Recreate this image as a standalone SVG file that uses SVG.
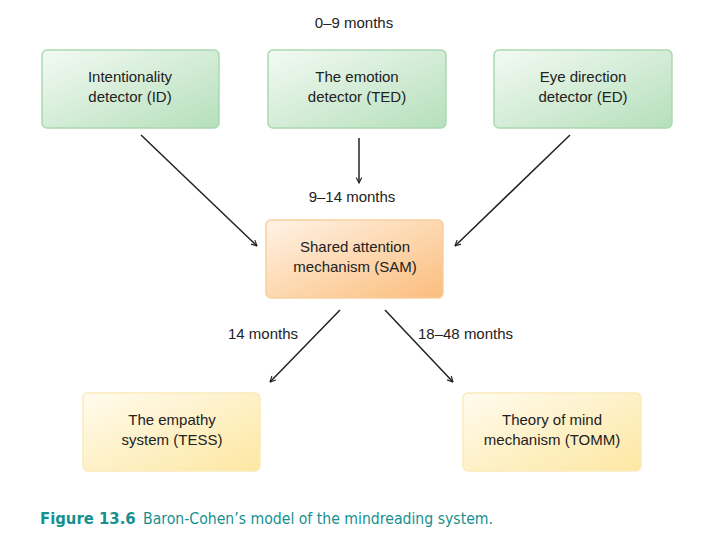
<svg xmlns="http://www.w3.org/2000/svg" width="728" height="550" viewBox="0 0 728 550">
<defs>
<linearGradient id="gGreen" x1="0" y1="0" x2="1" y2="1">
<stop offset="0" stop-color="#f3faf3"/><stop offset="1" stop-color="#b5dfbb"/>
</linearGradient>
<linearGradient id="gOrange" x1="0" y1="0" x2="1" y2="1">
<stop offset="0" stop-color="#fff3e6"/><stop offset="1" stop-color="#fbbd7c"/>
</linearGradient>
<linearGradient id="gYellow" x1="0" y1="0" x2="1" y2="1">
<stop offset="0" stop-color="#fffbee"/><stop offset="1" stop-color="#fde7a2"/>
</linearGradient>
<marker id="arr" viewBox="0 0 10 10" refX="9" refY="5" markerWidth="7" markerHeight="7" orient="auto" markerUnits="userSpaceOnUse">
<path d="M1,1 L9,5 L1,9" fill="none" stroke="#222" stroke-width="1.6"/>
</marker>
<style>
.t{font-family:"Liberation Sans",Arial,sans-serif;font-size:15px;fill:#222;text-anchor:middle}
.l{font-family:"Liberation Sans",Arial,sans-serif;font-size:15px;fill:#222}
.green{fill:url(#gGreen);stroke:#a9d9b0;stroke-width:1.5}
.orange{fill:url(#gOrange);stroke:#f8cf9f;stroke-width:1.5}
.yellow{fill:url(#gYellow);stroke:#fbeabb;stroke-width:1.5}
.c{stroke:#222;stroke-width:1.5;fill:none;marker-end:url(#arr)}
.cap{font-family:"DejaVu Sans Condensed","DejaVu Sans",sans-serif;fill:#16908f}
</style>
</defs>
<text class="t" x="354" y="28">0–9 months</text>
<g id="ID"><rect class="green" x="42" y="50" width="177" height="78" rx="5"/><text class="t" x="130" y="82">Intentionality</text><text class="t" x="130" y="102">detector (ID)</text></g>
<g id="TED"><rect class="green" x="268" y="50" width="178" height="78" rx="5"/><text class="t" x="357" y="82">The emotion</text><text class="t" x="357" y="102">detector (TED)</text></g>
<g id="ED"><rect class="green" x="494" y="50" width="178" height="78" rx="5"/><text class="t" x="583" y="82">Eye direction</text><text class="t" x="583" y="102">detector (ED)</text></g>
<g id="SAM"><rect class="orange" x="266" y="220" width="177" height="78" rx="5"/><text class="t" x="355" y="252">Shared attention</text><text class="t" x="355" y="272">mechanism (SAM)</text></g>
<g id="TESS"><rect class="yellow" x="83" y="393" width="177" height="78" rx="5"/><text class="t" x="172" y="425">The empathy</text><text class="t" x="172" y="445">system (TESS)</text></g>
<g id="TOMM"><rect class="yellow" x="463" y="393" width="178" height="78" rx="5"/><text class="t" x="552" y="425">Theory of mind</text><text class="t" x="552" y="445">mechanism (TOMM)</text></g>
<g id="connectors">
<line class="c" x1="141" y1="135" x2="257" y2="246"/>
<line class="c" x1="359" y1="138" x2="359" y2="183"/>
<line class="c" x1="570" y1="135" x2="455" y2="246"/>
<line class="c" x1="340" y1="310" x2="270" y2="382"/>
<line class="c" x1="385" y1="310" x2="453" y2="382"/>
</g>
<text class="t" x="352" y="202">9–14 months</text>
<text class="l" x="228" y="339">14 months</text>
<text class="l" x="418" y="339">18–48 months</text>
<text class="cap" x="40" y="524" font-size="16.5" font-weight="bold">Figure 13.6</text>
<text class="cap" x="143" y="524" font-size="15.6" textLength="350" lengthAdjust="spacingAndGlyphs">Baron-Cohen’s model of the mindreading system.</text>
</svg>
